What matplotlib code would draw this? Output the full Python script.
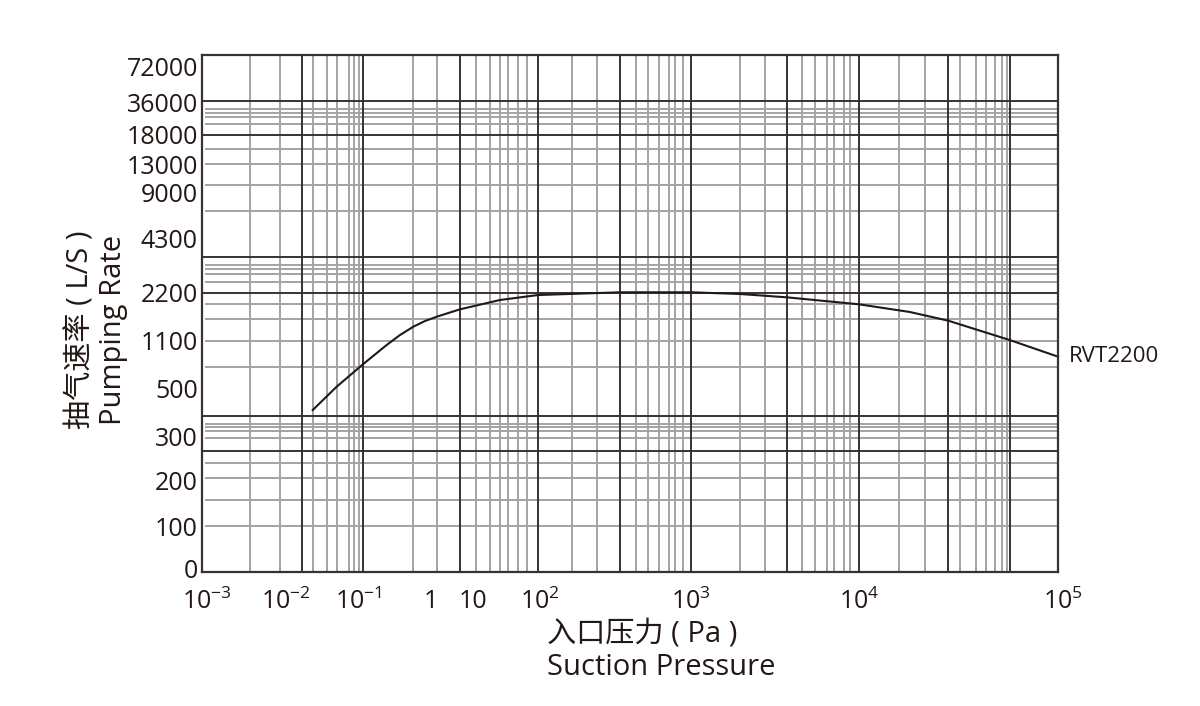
import numpy as np
import matplotlib
matplotlib.use("Agg")
import matplotlib.pyplot as plt
from matplotlib.transforms import ScaledTranslation

plt.rcParams['font.family'] = ['Open Sans', 'Noto Sans CJK SC', 'DejaVu Sans']
plt.rcParams['mathtext.fontset'] = 'custom'
plt.rcParams['mathtext.rm'] = 'Open Sans'

#---------------- data ----------------
pressure_pa = [0.0235, 0.0506, 0.118, 0.247, 0.376, 0.573, 0.828, 1.37, 4.9, 25.3, 94,
               339, 1010, 1958, 3717, 10000, 18000, 28100, 57400, 100000]
rate_ls = [410, 517, 806, 1049, 1237, 1428, 1558, 1657, 1826, 2040, 2154,
           2227, 2227, 2177, 2101, 1941, 1765, 1565, 1120, 900]
curve_name = "RVT2200"

x_tick_values = [1e-3, 1e-2, 1e-1, 1, 10, 1e2, 1e3, 1e4, 1e5]
x_tick_labels = [r"$10^{-3}$", r"$10^{-2}$", r"$10^{-1}$", "1", "10",
                 r"$10^{2}$", r"$10^{3}$", r"$10^{4}$", r"$10^{5}$"]
y_tick_values = [0, 100, 200, 300, 500, 1100, 2200, 4300, 9000,
                 13000, 18000, 36000, 72000]
y_tick_labels = [str(v) for v in y_tick_values]

#---------------- layout (pixel positions on a 1200x706 sheet) ----------------
W, H = 1200, 706
L, R, T, B = 202, 1058, 55, 572

# the paper is not a true log scale: where each tick label sits
x_tick_px = [202, 286, 358, 431, 473, 540, 691, 859, 1058]
y_tick_px = [572, 526, 480, 437, 388, 341, 293, 238, 192, 165, 135, 103, 66]

# printed grid of the sheet
vx_dark = [302, 363, 460, 538, 620, 691, 787, 859, 948, 1010]
vx_gray = [250, 280, 313, 327, 337, 349, 354, 359, 413, 437,
           476, 490, 500, 508, 518, 527, 572, 597, 636, 648, 659, 669, 675, 683,
           740, 765, 802, 815, 827, 834, 844, 850, 899, 925,
           960, 976, 986, 995, 1002, 1007]
hy_dark = [101, 135, 257, 293, 416, 451]
hy_gray = [109, 113, 117, 124, 149, 164, 185, 211, 265, 269, 274, 282,
           304, 319, 341, 367, 424, 427, 431, 438, 463, 478, 500, 526]

DARK = '#3a3131'
GRAY = '#a3a3a3'
INK = '#231815'


def fx(px):
    return (np.asarray(px, float) - L) / (R - L)


def fy(py):
    return (B - np.asarray(py, float)) / (B - T)


def ext_interp(x, xp, fp):
    x = np.atleast_1d(np.asarray(x, float))
    xp = np.asarray(xp, float)
    fp = np.asarray(fp, float)
    y = np.interp(x, xp, fp)
    lo = x < xp[0]
    hi = x > xp[-1]
    y[lo] = fp[0] + (x[lo] - xp[0]) * (fp[1] - fp[0]) / (xp[1] - xp[0])
    y[hi] = fp[-1] + (x[hi] - xp[-1]) * (fp[-1] - fp[-2]) / (xp[-1] - xp[-2])
    return y


xlog = np.log10(x_tick_values)
xfrac = fx(x_tick_px)
yfrac = fy(y_tick_px)


def x_fwd(v):
    return ext_interp(np.log10(np.clip(v, 1e-30, None)), xlog, xfrac)


def x_inv(f):
    return 10 ** ext_interp(f, xfrac, xlog)


def y_fwd(v):
    return ext_interp(v, y_tick_values, yfrac)


def y_inv(f):
    return ext_interp(f, yfrac, y_tick_values)


fig = plt.figure(figsize=(W / 100, H / 100), dpi=100)
ax = fig.add_axes([L / W, 1 - B / H, (R - L) / W, (B - T) / H])
ax.set_xscale('function', functions=(x_fwd, x_inv))
ax.set_yscale('function', functions=(y_fwd, y_inv))
ax.set_xlim(x_tick_values[0], x_tick_values[-1])
ax.set_ylim(0, float(y_inv(1.0)[0]))

# grid of the chart paper
ax.vlines(fx(vx_gray), 0, 1, transform=ax.transAxes, colors=GRAY, lw=1.4, zorder=1)
ax.hlines(fy(hy_gray), 0.004, 1, transform=ax.transAxes, colors=GRAY, lw=1.4, zorder=1)
ax.vlines(fx(vx_dark), 0, 1, transform=ax.transAxes, colors=DARK, lw=1.4, zorder=2)
ax.hlines(fy(hy_dark), 0, 1, transform=ax.transAxes, colors=DARK, lw=1.4, zorder=2)

ax.plot(pressure_pa, rate_ls, color=INK, lw=1.5, zorder=3, clip_on=False)
ax.text(1.013, rate_ls[-1], curve_name, transform=ax.get_yaxis_transform(),
        ha='left', va='center', fontsize=16, color=INK)

for s in ax.spines.values():
    s.set_color(DARK)
    s.set_linewidth(1.6)
    s.set_zorder(4)

ax.set_xticks(x_tick_values, x_tick_labels)
ax.set_yticks(y_tick_values, y_tick_labels)
ax.minorticks_off()
ax.tick_params(axis='both', length=0, labelsize=18, labelcolor=INK)
ax.tick_params(axis='x', pad=12)
ax.tick_params(axis='y', pad=3)

# end labels sit a little inside on the original sheet
xl = ax.get_xticklabels()
for lab in (xl[0], xl[-1]):
    lab.set_transform(lab.get_transform() + ScaledTranslation(5 / 100, 0, fig.dpi_scale_trans))
yl = ax.get_yticklabels()
yl[0].set_transform(yl[0].get_transform() + ScaledTranslation(0, 3 / 100, fig.dpi_scale_trans))

fig.text(547 / W, 1 - 651 / H, "入口压力 ( Pa )\nSuction Pressure", ha='left', va='center',
         fontsize=21, color=INK, linespacing=1.2)
fig.text(97 / W, 1 - 330 / H, "抽气速率 ( L/S )\nPumping Rate", ha='center', va='center',
         rotation=90, fontsize=21, color=INK, linespacing=1.15, multialignment='center')

fig.savefig("out.png", dpi=100, facecolor='white')
